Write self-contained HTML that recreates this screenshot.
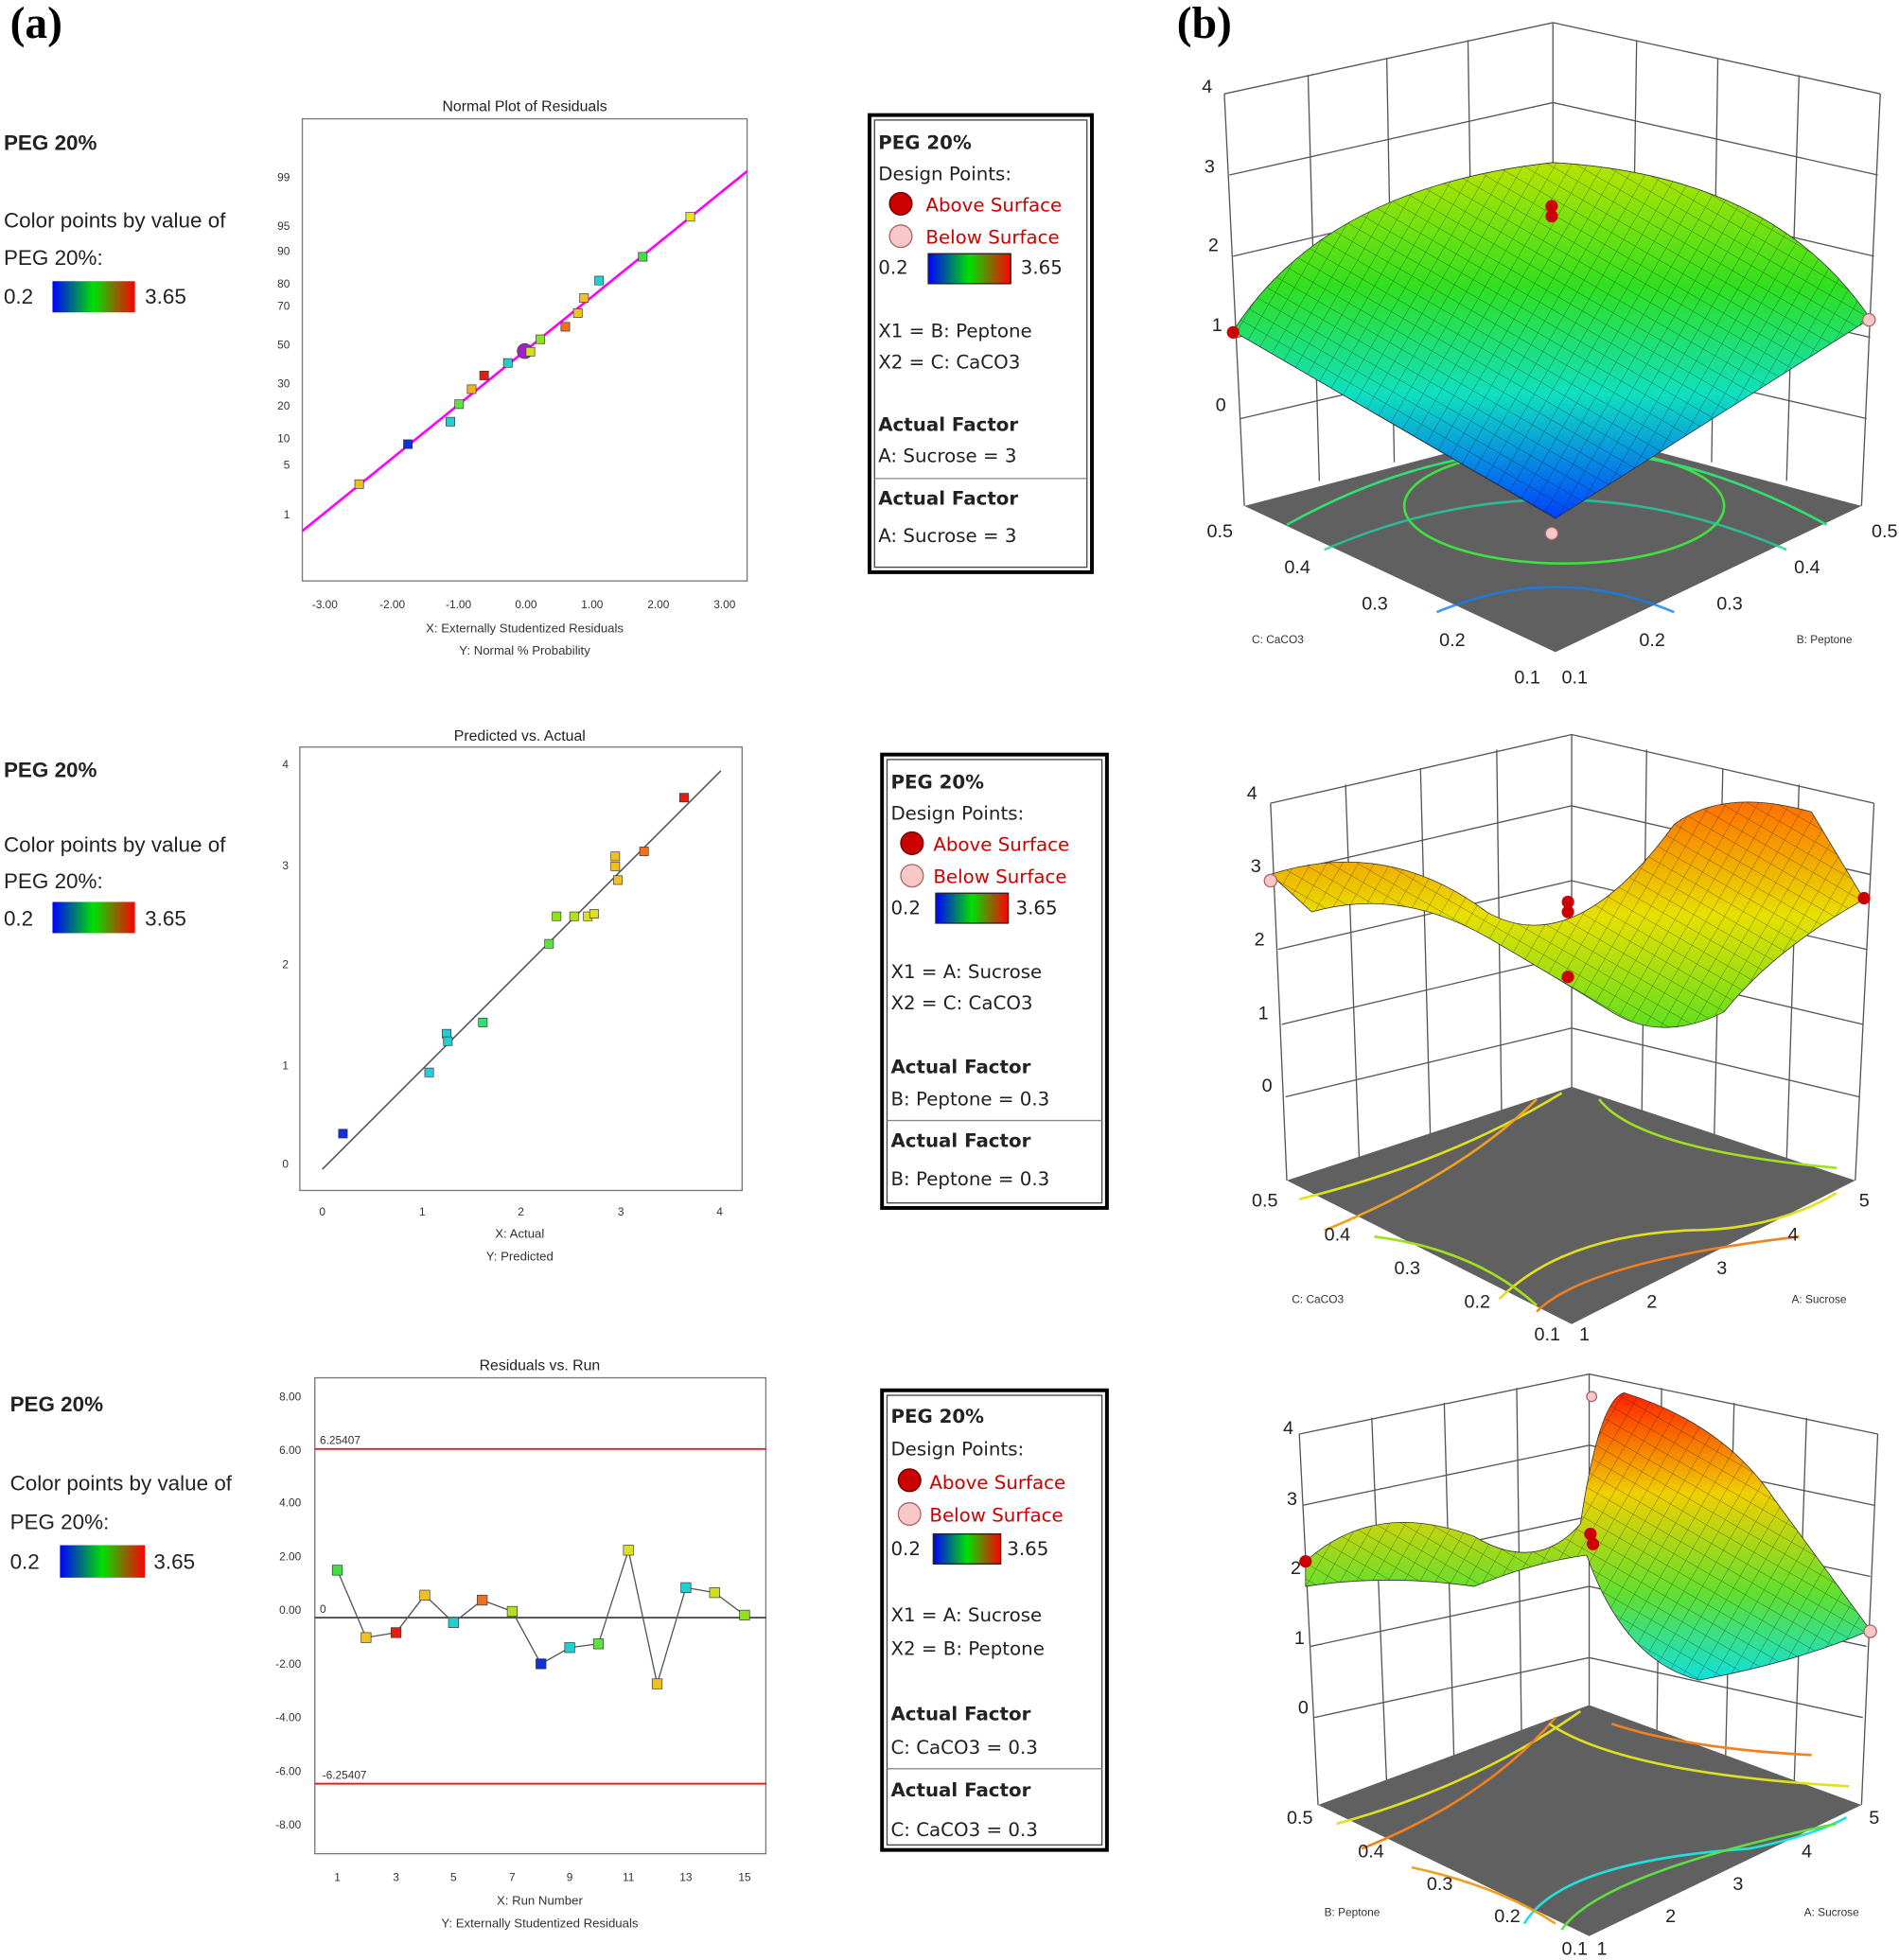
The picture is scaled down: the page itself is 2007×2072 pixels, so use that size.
<!DOCTYPE html>
<html><head><meta charset="utf-8"><style>
html,body{margin:0;padding:0;background:#fff}
svg{display:block}
text{font-family:"Liberation Sans",sans-serif}
.sm{font-size:9px;fill:#333}
.t{font-size:12px;fill:#222}
.lg{font-family:"DejaVu Sans","Liberation Sans",sans-serif;font-size:15px;fill:#222}
.lr{font-family:"DejaVu Sans","Liberation Sans",sans-serif;font-size:15px;fill:#c00}
.lb{font-family:"DejaVu Sans","Liberation Sans",sans-serif;font-size:15px;font-weight:bold;fill:#222}
.l3{font-family:"DejaVu Sans","Liberation Sans",sans-serif;font-size:17px;fill:#222}
.ax{font-size:15px;fill:#222}
.ser{font-family:"Liberation Serif",serif;font-weight:bold;font-size:36px}
</style></head><body>
<svg width="2007" height="2072" viewBox="0 0 1520 1569" xmlns="http://www.w3.org/2000/svg">
<defs>
<linearGradient id="cb" x1="0" x2="1"><stop offset="0" stop-color="#0000ff"/><stop offset=".5" stop-color="#00e000"/><stop offset="1" stop-color="#ff0000"/></linearGradient>
<linearGradient id="s1" x1="0" y1="0" x2="0" y2="1"><stop offset="0" stop-color="#b8e400"/><stop offset=".35" stop-color="#30e020"/><stop offset=".65" stop-color="#10e0c0"/><stop offset="1" stop-color="#0040ff"/></linearGradient>
<linearGradient id="s2" x1="0" y1="0" x2="0" y2="1"><stop offset="0" stop-color="#ff7000"/><stop offset=".5" stop-color="#e8e000"/><stop offset="1" stop-color="#60e020"/></linearGradient>
<linearGradient id="s3" x1="0" y1="0" x2="0" y2="1"><stop offset="0" stop-color="#ff2000"/><stop offset=".35" stop-color="#f0d000"/><stop offset=".7" stop-color="#60e030"/><stop offset="1" stop-color="#10e0e0"/></linearGradient>
<pattern id="mesh" width="11" height="11" patternUnits="userSpaceOnUse" patternTransform="rotate(30)">
<path d="M0,0 L11,0 M0,0 L0,11" stroke="#000" stroke-width=".7" stroke-opacity=".45" fill="none"/></pattern>
</defs>
<text x="8" y="30" class="ser">(a)</text>
<text x="942" y="30" class="ser">(b)</text>

<!-- left labels -->
<g class="l3">
<text x="3" y="120" font-weight="bold">PEG 20%</text><text x="3" y="182">Color points by value of</text><text x="3" y="212">PEG 20%:</text><text x="3" y="243">0.2</text><text x="116" y="243">3.65</text>
<text x="3" y="622" font-weight="bold">PEG 20%</text><text x="3" y="682">Color points by value of</text><text x="3" y="711">PEG 20%:</text><text x="3" y="741">0.2</text><text x="116" y="741">3.65</text>
<text x="8" y="1130" font-weight="bold">PEG 20%</text><text x="8" y="1193">Color points by value of</text><text x="8" y="1224">PEG 20%:</text><text x="8" y="1256">0.2</text><text x="123" y="1256">3.65</text>
</g>
<rect x="42" y="225" width="66" height="25" fill="url(#cb)"/>
<rect x="42" y="722" width="66" height="25" fill="url(#cb)"/>
<rect x="48" y="1237" width="68" height="26" fill="url(#cb)"/>

<!-- plot 1 -->
<text x="420" y="89" class="t" text-anchor="middle">Normal Plot of Residuals</text>
<rect x="242" y="95" width="356" height="370" fill="none" stroke="#777"/>
<line x1="242" y1="425" x2="598" y2="137" stroke="#f0f" stroke-width="2"/>
<g class="sm" text-anchor="end"><text x="232" y="145">99</text><text x="232" y="184">95</text><text x="232" y="204">90</text><text x="232" y="230">80</text><text x="232" y="248">70</text><text x="232" y="279">50</text><text x="232" y="310">30</text><text x="232" y="328">20</text><text x="232" y="354">10</text><text x="232" y="375">5</text><text x="232" y="415">1</text></g>
<g class="sm" text-anchor="middle"><text x="260" y="487">-3.00</text><text x="314" y="487">-2.00</text><text x="367" y="487">-1.00</text><text x="421" y="487">0.00</text><text x="474" y="487">1.00</text><text x="527" y="487">2.00</text><text x="580" y="487">3.00</text>
<text x="420" y="506" font-size="10">X: Externally Studentized Residuals</text><text x="420" y="524" font-size="10">Y: Normal % Probability</text></g>
<g stroke="#333" stroke-width=".5">
<rect x="284" y="384" width="7" height="7" fill="#e8c020"/><rect x="323" y="352" width="7" height="7" fill="#1030e0"/><rect x="357" y="334" width="7" height="7" fill="#20d0d0"/><rect x="364" y="320" width="7" height="7" fill="#60e040"/><rect x="374" y="308" width="7" height="7" fill="#f0b020"/><rect x="384" y="297" width="7" height="7" fill="#e02010"/><rect x="403" y="287" width="7" height="7" fill="#20d0c0"/><circle cx="420" cy="281" r="6" fill="#a020d0"/><rect x="421" y="278" width="7" height="7" fill="#d0e020"/><rect x="429" y="268" width="7" height="7" fill="#90e020"/><rect x="449" y="258" width="7" height="7" fill="#f07020"/><rect x="459" y="247" width="7" height="7" fill="#f0c020"/><rect x="464" y="235" width="7" height="7" fill="#f0c020"/><rect x="476" y="221" width="7" height="7" fill="#20d0d0"/><rect x="511" y="202" width="7" height="7" fill="#40e040"/><rect x="549" y="170" width="7" height="7" fill="#f0e020"/>
</g>

<!-- plot 2 -->
<text x="416" y="593" class="t" text-anchor="middle">Predicted vs. Actual</text>
<rect x="240" y="598" width="354" height="355" fill="none" stroke="#777"/>
<line x1="258" y1="936" x2="577" y2="617" stroke="#555" stroke-width="1.2"/>
<g class="sm" text-anchor="end"><text x="231" y="615">4</text><text x="231" y="696">3</text><text x="231" y="775">2</text><text x="231" y="856">1</text><text x="231" y="935">0</text></g>
<g class="sm" text-anchor="middle"><text x="258" y="973">0</text><text x="338" y="973">1</text><text x="417" y="973">2</text><text x="497" y="973">3</text><text x="576" y="973">4</text>
<text x="416" y="991" font-size="10">X: Actual</text><text x="416" y="1009" font-size="10">Y: Predicted</text></g>
<g stroke="#333" stroke-width=".5">
<rect x="271" y="904" width="7" height="7" fill="#1030e0"/><rect x="340" y="855" width="7" height="7" fill="#20d0e0"/><rect x="354" y="824" width="7" height="7" fill="#20d0d0"/><rect x="355" y="830" width="7" height="7" fill="#20d0d0"/><rect x="383" y="815" width="7" height="7" fill="#30e070"/><rect x="436" y="752" width="7" height="7" fill="#60e040"/><rect x="442" y="730" width="7" height="7" fill="#90e020"/><rect x="456" y="730" width="7" height="7" fill="#b0e020"/><rect x="467" y="730" width="7" height="7" fill="#e0e020"/><rect x="472" y="728" width="7" height="7" fill="#e0e020"/><rect x="489" y="682" width="7" height="7" fill="#f0c020"/><rect x="489" y="690" width="7" height="7" fill="#f0c020"/><rect x="491" y="701" width="7" height="7" fill="#f0c020"/><rect x="512" y="678" width="7" height="7" fill="#f07020"/><rect x="544" y="635" width="7" height="7" fill="#e02010"/>
</g>

<!-- plot 3 -->
<text x="432" y="1097" class="t" text-anchor="middle">Residuals vs. Run</text>
<rect x="252" y="1103" width="361" height="381" fill="none" stroke="#777"/>
<line x1="252" y1="1160" x2="613" y2="1160" stroke="#e02020" stroke-width="1.5"/>
<line x1="252" y1="1428" x2="613" y2="1428" stroke="#e02020" stroke-width="1.5"/>
<line x1="252" y1="1295" x2="613" y2="1295" stroke="#333" stroke-width="1.2"/>
<text x="256" y="1156" class="sm" font-size="8">6.25407</text><text x="258" y="1424" class="sm" font-size="8">-6.25407</text><text x="256" y="1291" class="sm" font-size="8">0</text>
<g class="sm" text-anchor="end"><text x="241" y="1121">8.00</text><text x="241" y="1164">6.00</text><text x="241" y="1206">4.00</text><text x="241" y="1249">2.00</text><text x="241" y="1292">0.00</text><text x="241" y="1335">-2.00</text><text x="241" y="1378">-4.00</text><text x="241" y="1421">-6.00</text><text x="241" y="1464">-8.00</text></g>
<g class="sm" text-anchor="middle"><text x="270" y="1506">1</text><text x="317" y="1506">3</text><text x="363" y="1506">5</text><text x="410" y="1506">7</text><text x="456" y="1506">9</text><text x="503" y="1506">11</text><text x="549" y="1506">13</text><text x="596" y="1506">15</text>
<text x="432" y="1525" font-size="10">X: Run Number</text><text x="432" y="1543" font-size="10">Y: Externally Studentized Residuals</text></g>
<polyline fill="none" stroke="#555" points="270,1257 293,1311 317,1307 340,1277 363,1299 386,1281 410,1290 433,1332 456,1319 479,1316 503,1241 526,1348 549,1271 572,1275 596,1293"/>
<g stroke="#333" stroke-width=".5">
<rect x="266" y="1253" width="8" height="8" fill="#40e040"/><rect x="289" y="1307" width="8" height="8" fill="#f0c020"/><rect x="313" y="1303" width="8" height="8" fill="#e02010"/><rect x="336" y="1273" width="8" height="8" fill="#f0c020"/><rect x="359" y="1295" width="8" height="8" fill="#20d0d0"/><rect x="382" y="1277" width="8" height="8" fill="#f07020"/><rect x="406" y="1286" width="8" height="8" fill="#b0e020"/><rect x="429" y="1328" width="8" height="8" fill="#1030e0"/><rect x="452" y="1315" width="8" height="8" fill="#20d0d0"/><rect x="475" y="1312" width="8" height="8" fill="#60e040"/><rect x="499" y="1237" width="8" height="8" fill="#e0e020"/><rect x="522" y="1344" width="8" height="8" fill="#f0c020"/><rect x="545" y="1267" width="8" height="8" fill="#20d0d0"/><rect x="568" y="1271" width="8" height="8" fill="#d0e020"/><rect x="592" y="1289" width="8" height="8" fill="#90e020"/>
</g>

<!-- legends -->
<g>
<rect x="696" y="92" width="178" height="366" fill="none" stroke="#000" stroke-width="3"/><rect x="700" y="96" width="170" height="358" fill="none" stroke="#444"/>
<line x1="700" y1="383" x2="870" y2="383" stroke="#888"/>
<text x="703" y="119" class="lb">PEG 20%</text><text x="703" y="144" class="lg">Design Points:</text>
<circle cx="721" cy="163" r="9" fill="#c00" stroke="#600"/><text x="741" y="169" class="lr">Above Surface</text>
<circle cx="721" cy="189" r="9" fill="#f8c8c8" stroke="#a66"/><text x="741" y="195" class="lr">Below Surface</text>
<text x="703" y="219" class="lg">0.2</text><rect x="743" y="203" width="66" height="24" fill="url(#cb)" stroke="#222"/><text x="817" y="219" class="lg">3.65</text>
<text x="703" y="270" class="lg">X1 = B: Peptone</text><text x="703" y="295" class="lg">X2 = C: CaCO3</text>
<text x="703" y="345" class="lb">Actual Factor</text><text x="703" y="370" class="lg">A: Sucrose = 3</text>
<text x="703" y="404" class="lb" font-size="18">Actual Factor</text><text x="703" y="434" class="lg" font-size="18">A: Sucrose = 3</text>
</g>
<g>
<rect x="706" y="604" width="180" height="363" fill="none" stroke="#000" stroke-width="3"/><rect x="710" y="608" width="172" height="355" fill="none" stroke="#444"/>
<line x1="710" y1="897" x2="882" y2="897" stroke="#888"/>
<text x="713" y="631" class="lb">PEG 20%</text><text x="713" y="656" class="lg">Design Points:</text>
<circle cx="730" cy="675" r="9" fill="#c00" stroke="#600"/><text x="747" y="681" class="lr">Above Surface</text>
<circle cx="730" cy="701" r="9" fill="#f8c8c8" stroke="#a66"/><text x="747" y="707" class="lr">Below Surface</text>
<text x="713" y="732" class="lg">0.2</text><rect x="749" y="715" width="58" height="24" fill="url(#cb)" stroke="#222"/><text x="813" y="732" class="lg">3.65</text>
<text x="713" y="783" class="lg">X1 = A: Sucrose</text><text x="713" y="808" class="lg">X2 = C: CaCO3</text>
<text x="713" y="859" class="lb">Actual Factor</text><text x="713" y="885" class="lg">B: Peptone = 0.3</text>
<text x="713" y="918" class="lb" font-size="18">Actual Factor</text><text x="713" y="949" class="lg" font-size="18">B: Peptone = 0.3</text>
</g>
<g>
<rect x="706" y="1113" width="180" height="368" fill="none" stroke="#000" stroke-width="3"/><rect x="710" y="1117" width="172" height="360" fill="none" stroke="#444"/>
<line x1="710" y1="1416" x2="882" y2="1416" stroke="#888"/>
<text x="713" y="1139" class="lb">PEG 20%</text><text x="713" y="1165" class="lg">Design Points:</text>
<circle cx="728" cy="1185" r="9" fill="#c00" stroke="#600"/><text x="744" y="1192" class="lr">Above Surface</text>
<circle cx="728" cy="1212" r="9" fill="#f8c8c8" stroke="#a66"/><text x="744" y="1218" class="lr">Below Surface</text>
<text x="713" y="1245" class="lg">0.2</text><rect x="747" y="1228" width="54" height="24" fill="url(#cb)" stroke="#222"/><text x="806" y="1245" class="lg">3.65</text>
<text x="713" y="1298" class="lg">X1 = A: Sucrose</text><text x="713" y="1325" class="lg">X2 = B: Peptone</text>
<text x="713" y="1377" class="lb">Actual Factor</text><text x="713" y="1404" class="lg">C: CaCO3 = 0.3</text>
<text x="713" y="1438" class="lb" font-size="18">Actual Factor</text><text x="713" y="1470" class="lg" font-size="18">C: CaCO3 = 0.3</text>
</g>

<!-- 3D 1 -->
<g stroke="#555" stroke-width="1" fill="none">
<polyline points="980,75 1243,18 1505,75"/><polyline points="996,405 980,75"/><line x1="1243" y1="18" x2="1243" y2="340"/><line x1="1505" y1="75" x2="1490" y2="405"/>
<polyline points="984,140 1243,82 1503,140"/><polyline points="987,205 1243,145 1500,205"/><polyline points="990,270 1243,212 1497,270"/><polyline points="993,335 1243,277 1494,335"/>
<line x1="1047" y1="60" x2="1056" y2="385"/><line x1="1110" y1="47" x2="1116" y2="370"/><line x1="1175" y1="32" x2="1180" y2="355"/><line x1="1310" y1="32" x2="1305" y2="355"/><line x1="1375" y1="47" x2="1370" y2="370"/><line x1="1440" y1="60" x2="1430" y2="385"/>
</g>
<polygon points="996,405 1245,340 1490,405 1245,522" fill="#606060"/>
<ellipse cx="1252" cy="405" rx="128" ry="46" fill="none" stroke="#40e040" stroke-width="2"/>
<path d="M1030,420 Q1245,300 1462,420" fill="none" stroke="#30e070" stroke-width="2"/>
<path d="M1060,440 Q1245,360 1430,440" fill="none" stroke="#20d0a0" stroke-width="2" opacity=".8"/>
<path d="M1150,490 Q1245,450 1340,490" fill="none" stroke="#1080f0" stroke-width="2" opacity=".8"/>
<path id="p1" d="M987,265 Q1060,150 1243,130 Q1420,140 1497,255 L1245,415 Z" fill="url(#s1)" stroke="#333" stroke-width=".6"/>
<path d="M987,265 Q1060,150 1243,130 Q1420,140 1497,255 L1245,415 Z" fill="url(#mesh)"/>
<circle cx="1242" cy="165" r="5" fill="#c00"/><circle cx="1242" cy="173" r="5" fill="#c00"/><circle cx="987" cy="266" r="5" fill="#c00"/><circle cx="1496" cy="256" r="5" fill="#f8c8c8" stroke="#a66"/><circle cx="1242" cy="427" r="5" fill="#f8c8c8" stroke="#a66"/>
<g class="ax"><text x="962" y="74">4</text><text x="964" y="138">3</text><text x="967" y="201">2</text><text x="970" y="265">1</text><text x="973" y="329">0</text>
<text x="966" y="430">0.5</text><text x="1028" y="459">0.4</text><text x="1090" y="488">0.3</text><text x="1152" y="517">0.2</text><text x="1212" y="547">0.1</text>
<text x="1250" y="547">0.1</text><text x="1312" y="517">0.2</text><text x="1374" y="488">0.3</text><text x="1436" y="459">0.4</text><text x="1498" y="430">0.5</text></g>
<text x="1002" y="515" class="sm">C: CaCO3</text><text x="1438" y="515" class="sm">B: Peptone</text>

<!-- 3D 2 -->
<g stroke="#555" stroke-width="1" fill="none">
<polyline points="1017,643 1258,588 1500,643"/><line x1="1017" y1="643" x2="1030" y2="945"/><line x1="1258" y1="588" x2="1258" y2="870"/><line x1="1500" y1="643" x2="1485" y2="945"/>
<polyline points="1020,700 1258,645 1497,700"/><polyline points="1023,760 1258,705 1494,760"/><polyline points="1026,820 1258,765 1491,820"/><polyline points="1029,878 1258,823 1488,878"/>
<line x1="1077" y1="628" x2="1088" y2="930"/><line x1="1137" y1="615" x2="1145" y2="915"/><line x1="1198" y1="600" x2="1202" y2="900"/><line x1="1318" y1="600" x2="1314" y2="900"/><line x1="1379" y1="615" x2="1372" y2="915"/><line x1="1440" y1="628" x2="1430" y2="930"/>
</g>
<polygon points="1030,945 1258,870 1485,945 1258,1060" fill="#606060"/>
<g fill="none" stroke-width="2"><path d="M1040,960 Q1160,930 1250,875" stroke="#e0e020"/><path d="M1060,985 Q1170,940 1230,880" stroke="#f0a020"/><path d="M1200,1040 Q1250,990 1350,985 Q1420,985 1470,955" stroke="#e0e020"/><path d="M1230,1050 Q1270,1010 1440,990" stroke="#f08020"/><path d="M1280,880 Q1310,920 1470,935" stroke="#a0e020"/><path d="M1100,990 Q1180,1000 1230,1045" stroke="#a0e020"/></g>
<path d="M1017,700 Q1110,670 1190,730 Q1260,770 1340,660 Q1380,630 1450,650 L1492,720 Q1420,760 1380,810 Q1330,835 1290,810 Q1250,785 1190,750 Q1120,710 1050,730 Z" fill="url(#s2)" stroke="#333" stroke-width=".6"/>
<path d="M1017,700 Q1110,670 1190,730 Q1260,770 1340,660 Q1380,630 1450,650 L1492,720 Q1420,760 1380,810 Q1330,835 1290,810 Q1250,785 1190,750 Q1120,710 1050,730 Z" fill="url(#mesh)"/>
<circle cx="1255" cy="722" r="5" fill="#c00"/><circle cx="1255" cy="730" r="5" fill="#c00"/><circle cx="1255" cy="782" r="5" fill="#c00"/><circle cx="1492" cy="719" r="5" fill="#c00"/><circle cx="1017" cy="705" r="5" fill="#f8c8c8" stroke="#a66"/>
<g class="ax"><text x="998" y="640">4</text><text x="1001" y="698">3</text><text x="1004" y="757">2</text><text x="1007" y="816">1</text><text x="1010" y="874">0</text>
<text x="1002" y="966">0.5</text><text x="1060" y="993">0.4</text><text x="1116" y="1020">0.3</text><text x="1172" y="1047">0.2</text><text x="1228" y="1073">0.1</text>
<text x="1264" y="1073">1</text><text x="1318" y="1047">2</text><text x="1374" y="1020">3</text><text x="1431" y="993">4</text><text x="1488" y="966">5</text></g>
<text x="1034" y="1043" class="sm">C: CaCO3</text><text x="1434" y="1043" class="sm">A: Sucrose</text>

<!-- 3D 3 -->
<g stroke="#555" stroke-width="1" fill="none">
<polyline points="1040,1148 1272,1100 1503,1148"/><line x1="1040" y1="1148" x2="1055" y2="1445"/><line x1="1272" y1="1100" x2="1272" y2="1365"/><line x1="1503" y1="1148" x2="1490" y2="1445"/>
<polyline points="1043,1205 1272,1157 1500,1205"/><polyline points="1046,1262 1272,1214 1497,1262"/><polyline points="1049,1318 1272,1270 1494,1318"/><polyline points="1052,1375 1272,1327 1491,1375"/>
<line x1="1098" y1="1135" x2="1110" y2="1430"/><line x1="1156" y1="1123" x2="1164" y2="1415"/><line x1="1214" y1="1111" x2="1218" y2="1400"/><line x1="1330" y1="1111" x2="1326" y2="1400"/><line x1="1388" y1="1123" x2="1381" y2="1415"/><line x1="1446" y1="1135" x2="1436" y2="1430"/>
</g>
<polygon points="1055,1445 1272,1365 1490,1445 1272,1550" fill="#606060"/>
<g fill="none" stroke-width="2"><path d="M1070,1460 Q1180,1430 1265,1370" stroke="#e0e020"/><path d="M1090,1480 Q1190,1440 1245,1375" stroke="#f08020"/><path d="M1240,1380 Q1300,1420 1480,1430" stroke="#e0e020"/><path d="M1220,1540 Q1250,1490 1400,1480 Q1450,1470 1478,1455" stroke="#20e0e0"/><path d="M1250,1545 Q1280,1500 1470,1460" stroke="#60e040"/><path d="M1130,1495 Q1200,1510 1245,1540" stroke="#f0a020"/><path d="M1290,1380 Q1350,1400 1450,1405" stroke="#f08020"/></g>
<path d="M1045,1250 Q1100,1200 1180,1230 Q1230,1260 1265,1220 Q1280,1120 1300,1115 Q1380,1140 1420,1200 L1497,1305 Q1440,1330 1360,1345 Q1300,1330 1270,1245 Q1230,1250 1180,1270 Q1110,1260 1045,1270 Z" fill="url(#s3)" stroke="#333" stroke-width=".6"/>
<path d="M1045,1250 Q1100,1200 1180,1230 Q1230,1260 1265,1220 Q1280,1120 1300,1115 Q1380,1140 1420,1200 L1497,1305 Q1440,1330 1360,1345 Q1300,1330 1270,1245 Q1230,1250 1180,1270 Q1110,1260 1045,1270 Z" fill="url(#mesh)"/>
<circle cx="1273" cy="1228" r="5" fill="#c00"/><circle cx="1275" cy="1236" r="5" fill="#c00"/><circle cx="1045" cy="1250" r="5" fill="#c00"/><circle cx="1497" cy="1306" r="5" fill="#f8c8c8" stroke="#a66"/><circle cx="1274" cy="1118" r="4" fill="#f8c8c8" stroke="#a66"/>
<g class="ax"><text x="1027" y="1148">4</text><text x="1030" y="1205">3</text><text x="1033" y="1260">2</text><text x="1036" y="1316">1</text><text x="1039" y="1372">0</text>
<text x="1030" y="1460">0.5</text><text x="1087" y="1487">0.4</text><text x="1142" y="1513">0.3</text><text x="1196" y="1539">0.2</text><text x="1250" y="1565">0.1</text>
<text x="1278" y="1565">1</text><text x="1333" y="1539">2</text><text x="1387" y="1513">3</text><text x="1442" y="1487">4</text><text x="1496" y="1460">5</text></g>
<text x="1060" y="1534" class="sm">B: Peptone</text><text x="1444" y="1534" class="sm">A: Sucrose</text>
</svg>
</body></html>
